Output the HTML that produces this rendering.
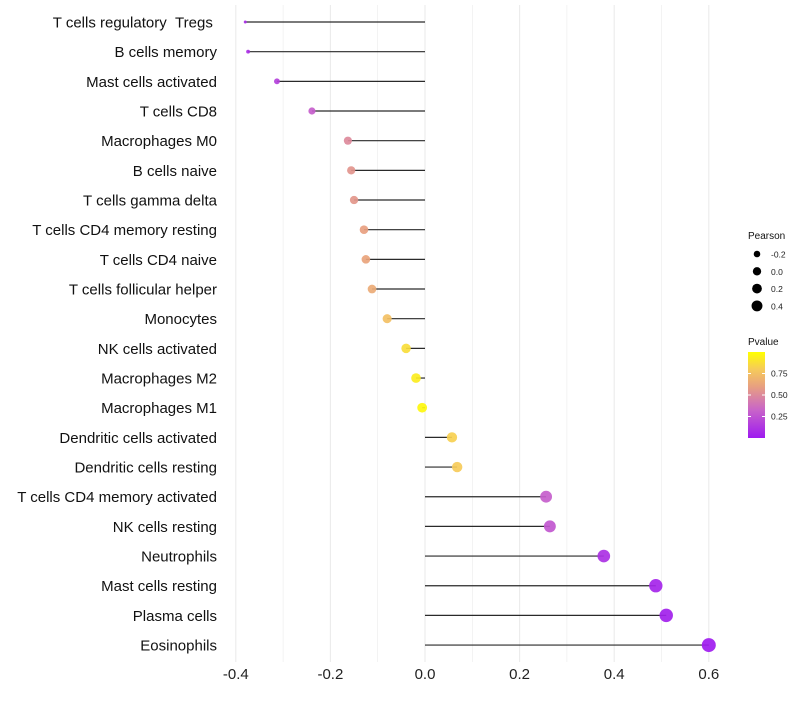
<!DOCTYPE html>
<html><head><meta charset="utf-8"><style>
body{margin:0;background:#fff;font-family:"Liberation Sans",sans-serif}
</style></head><body>
<svg id="chart" width="800" height="700" xmlns="http://www.w3.org/2000/svg" font-family="Liberation Sans, sans-serif">
<g id="grid"></g>
<g id="marks"></g>
<g id="ylabels"></g>
<g id="xlabels"></g>
<g id="legend"></g>
</svg>
<script>
const categories=["T cells regulatory \u00a0Tregs\u00a0","B cells memory","Mast cells activated","T cells CD8","Macrophages M0","B cells naive","T cells gamma delta","T cells CD4 memory resting","T cells CD4 naive","T cells follicular helper","Monocytes","NK cells activated","Macrophages M2","Macrophages M1","Dendritic cells activated","Dendritic cells resting","T cells CD4 memory activated","NK cells resting","Neutrophils","Mast cells resting","Plasma cells","Eosinophils"];
const pearson=[-0.38,-0.374,-0.313,-0.239,-0.163,-0.156,-0.150,-0.129,-0.125,-0.112,-0.080,-0.040,-0.019,-0.006,0.057,0.068,0.256,0.264,0.378,0.488,0.510,0.600];
const pvalue=[0.08,0.09,0.17,0.3,0.5,0.55,0.56,0.6,0.62,0.65,0.75,0.87,0.93,0.97,0.82,0.8,0.3,0.27,0.1,0.05,0.03,0.01];
const xTicks=[-0.4,-0.2,0.0,0.2,0.4,0.6];
const sizeLegend=[-0.2,0.0,0.2,0.4];
const colorTicks=[0.25,0.50,0.75];
const NS="http://www.w3.org/2000/svg";
const X=v=>425+v*473;
const Y=i=>22+i*29.67;
const R=v=>1.5+5.55*Math.sqrt(Math.max(0,v+0.38));
const stops=[[0,[158,26,240]],[0.33,[201,101,200]],[0.6,[232,160,128]],[0.8,[246,203,90]],[1,[255,255,0]]];
function col(p){for(let k=1;k<stops.length;k++){if(p<=stops[k][0]){const a=stops[k-1],b=stops[k],t=(p-a[0])/(b[0]-a[0]);return 'rgb('+a[1].map((c,j)=>Math.round(c+(b[1][j]-c)*t)).join(',')+')';}}return 'rgb(255,255,0)';}
function mk(tag,attrs,parent){const e=document.createElementNS(NS,tag);for(const k in attrs)e.setAttribute(k,attrs[k]);parent.appendChild(e);return e;}
const grid=document.getElementById('grid'),marks=document.getElementById('marks'),yl=document.getElementById('ylabels'),xl=document.getElementById('xlabels'),lg=document.getElementById('legend');
for(let v=-0.4;v<=0.61;v+=0.1){const g=mk('line',{x1:X(v),x2:X(v),y1:5,y2:662,stroke:'#ebebeb','stroke-width':Math.abs(Math.round(v*10))%2==0?1.1:0.6},grid);

}
categories.forEach((c,i)=>{
 const l=mk('line',{x1:X(0),x2:X(pearson[i]),y1:Y(i),y2:Y(i),stroke:'#2a2a2a','stroke-width':1.2},marks);
 
 
 const p=mk('circle',{cx:X(pearson[i]),cy:Y(i),r:R(pearson[i]),fill:col(pvalue[i]),'fill-opacity':0.92},marks);
 
 
 const t=mk('text',{x:217,y:Y(i)+5.5,'text-anchor':'end','font-size':15,fill:'#111'},yl);t.textContent=c;
 
 
});
xTicks.forEach(v=>{const t=mk('text',{x:X(v),y:679,'text-anchor':'middle','font-size':15,fill:'#222'},xl);t.textContent=v.toFixed(1);

});
let t=mk('text',{x:748,y:239,'font-size':10,fill:'#111'},lg);t.textContent='Pearson';


sizeLegend.forEach((v,k)=>{const cy=254+k*17.3;const c=mk('circle',{cx:757,cy:cy,r:R(v)*0.85,fill:'#000'},lg);


const tt=mk('text',{x:771,y:cy+3.5,'font-size':8.5,fill:'#222'},lg);tt.textContent=v.toFixed(1);

});
t=mk('text',{x:748,y:345,'font-size':10,fill:'#111'},lg);t.textContent='Pvalue';


const defs=mk('defs',{},lg);const gr=mk('linearGradient',{id:'cg',x1:0,y1:1,x2:0,y2:0},defs);
stops.forEach(s=>mk('stop',{offset:s[0],'stop-color':'rgb('+s[1].join(',')+')'},gr));
const cb=mk('rect',{x:748,y:352,width:17,height:86,fill:'url(#cg)'},lg);


colorTicks.forEach(v=>{const y=438-v*86;mk('line',{x1:748,x2:751,y1:y,y2:y,stroke:'#fff'},lg);mk('line',{x1:762,x2:765,y1:y,y2:y,stroke:'#fff'},lg);
const tt=mk('text',{x:771,y:y+3,'font-size':8.5,fill:'#222'},lg);tt.textContent=v.toFixed(2);

});
</script>
</body></html>
